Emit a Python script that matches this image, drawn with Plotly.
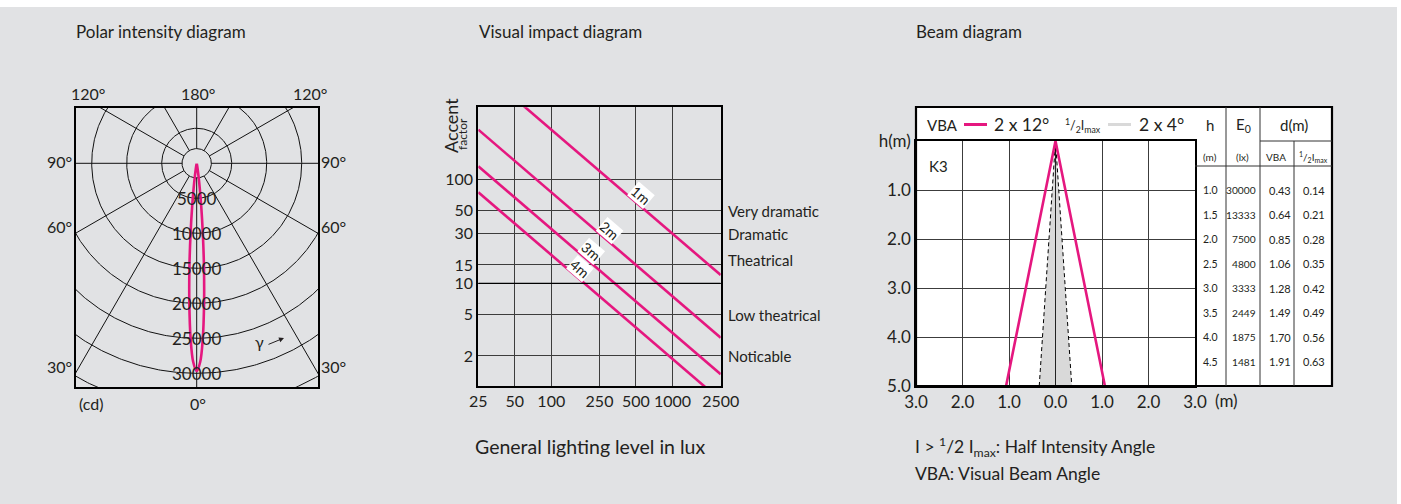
import numpy as np
import plotly.graph_objects as go

W, H = 1401, 504
def PX(x): return x / W
def PY(y): return 1 - y / H

PINK = "#e5177f"
TXT = "#231f20"
GRID = "#3c3c3c"
BG = "#e1e2e4"
FONT = "Lato, 'Open Sans', sans-serif"

# ---------------- data ----------------
# Polar intensity diagram (luminous intensity in cd vs gamma angle)
polar_gamma = [-12, -10, -9, -8, -7, -6, -5, -4, -3, -2, -1, 0, 1, 2, 3, 4, 5, 6, 7, 8, 9, 10, 12]
polar_cd = [60, 400, 900, 1900, 3600, 6200, 10000, 14900, 20100, 25000, 28400, 29700,
            28400, 25000, 20100, 14900, 10000, 6200, 3600, 1900, 900, 400, 60]
polar_ring_cd = [5000, 10000, 15000, 20000, 25000, 30000, 35000]
polar_ring_labels = ["5000", "10000", "15000", "20000", "25000", "30000"]
polar_spoke_deg = [0, 30, 60, 90, 120, 150, 180]
polar_hub_cd = 2100

# Visual impact diagram
lux_ticks = [25, 50, 100, 250, 500, 1000, 2500]
accent_ticks = [2, 5, 10, 15, 30, 50, 100]
impact_levels = ["Very dramatic", "Dramatic", "Theatrical", "Low theatrical", "Noticable"]
impact_level_acc = [50, 30, 16.8, 5, 2]
impact_dist = ["1m", "2m", "3m", "4m"]
impact_E0 = [30000, 7500, 3333, 1875]
impact_label_lux = [553, 303, 214, 172]
impact_label_acc = [70.2, 32.5, 20.1, 13.9]

# Beam diagram + table
beam_h = [1.0, 1.5, 2.0, 2.5, 3.0, 3.5, 4.0, 4.5]
beam_E0 = [30000, 13333, 7500, 4800, 3333, 2449, 1875, 1481]
beam_d_vba = [0.43, 0.64, 0.85, 1.06, 1.28, 1.49, 1.70, 1.91]
beam_d_half = [0.14, 0.21, 0.28, 0.35, 0.42, 0.49, 0.56, 0.63]
vba_half_angle = 12
half_imax_half_angle = 4
beam_h_max = 5.0
beam_x_ticks = [-3, -2, -1, 0, 1, 2, 3]
beam_x_text = ["3.0", "2.0", "1.0", "0.0", "1.0", "2.0", "3.0"]
beam_y_ticks = [0, 1, 2, 3, 4, 5]
beam_y_text = ["h(m)", "1.0", "2.0", "3.0", "4.0", "5.0"]

fig = go.Figure()

# ---------------- polar diagram ----------------
t = np.linspace(0, 2 * np.pi, 721)
gx, gy = [], []
for r in polar_ring_cd + [polar_hub_cd]:
    gx += list(r * np.sin(t)) + [None]
    gy += list(r * np.cos(t)) + [None]
for a in polar_spoke_deg:
    for s in ([1, -1] if 0 < a < 180 else [1]):
        ar = np.radians(a * s)
        gx += [polar_hub_cd * np.sin(ar), 60000 * np.sin(ar), None]
        gy += [-polar_hub_cd * np.cos(ar), -60000 * np.cos(ar), None]
fig.add_trace(go.Scatter(x=gx, y=gy, mode="lines", line=dict(color="#111", width=1),
                         xaxis="x", yaxis="y", hoverinfo="skip"))
g = np.radians(polar_gamma)
cd = np.array(polar_cd)
fig.add_trace(go.Scatter(x=cd * np.sin(g), y=-cd * np.cos(g), mode="lines",
                         line=dict(color=PINK, width=2.6, shape="spline"),
                         xaxis="x", yaxis="y", hoverinfo="skip"))

# ---------------- visual impact ----------------
for e0 in impact_E0:
    fig.add_trace(go.Scatter(x=[lux_ticks[0], lux_ticks[-1]], y=[e0 / lux_ticks[0], e0 / lux_ticks[-1]],
                             mode="lines", line=dict(color=PINK, width=2.6),
                             xaxis="x2", yaxis="y2", hoverinfo="skip"))
fig.add_trace(go.Scatter(x=[lux_ticks[0], lux_ticks[-1]], y=[10, 10], mode="lines",
                         line=dict(color="black", width=1.3), xaxis="x2", yaxis="y2", hoverinfo="skip"))

# ---------------- beam diagram ----------------
dh = beam_h_max * np.tan(np.radians(half_imax_half_angle))
dv = beam_h_max * np.tan(np.radians(vba_half_angle))
fig.add_trace(go.Scatter(x=[-dh, 0, dh, -dh], y=[beam_h_max, 0, beam_h_max, beam_h_max], fill="toself",
                         fillcolor="#d9d9d9", line=dict(width=0), mode="lines",
                         xaxis="x3", yaxis="y3", hoverinfo="skip"))
fig.add_trace(go.Scatter(x=[0, 0], y=[0, beam_h_max], mode="lines", line=dict(color="#222", width=1),
                         xaxis="x3", yaxis="y3", hoverinfo="skip"))
fig.add_trace(go.Scatter(x=[-dh, 0, dh], y=[beam_h_max, 0, beam_h_max], mode="lines",
                         line=dict(color="black", width=1, dash="4px,3px"),
                         xaxis="x3", yaxis="y3", hoverinfo="skip"))
fig.add_trace(go.Scatter(x=[-dv, 0, dv], y=[beam_h_max, 0, beam_h_max], mode="lines",
                         line=dict(color=PINK, width=2.6), xaxis="x3", yaxis="y3", hoverinfo="skip"))

# ---------------- annotations ----------------
anns = []
def ann(text, x, y, size, xanchor="center", yanchor="middle", **kw):
    d = dict(text=text, x=PX(x), y=PY(y), xref="paper", yref="paper", showarrow=False,
             font=dict(size=size, color=TXT, family=FONT), xanchor=xanchor, yanchor=yanchor)
    d.update(kw)
    anns.append(d)

# titles
ann("Polar intensity diagram", 74, 31, 17, xanchor="left")
ann("Visual impact diagram", 477, 31, 17, xanchor="left")
ann("Beam diagram", 914, 31, 17, xanchor="left")

# polar labels
ann("120°", 88, 93, 16); ann("180°", 198, 93, 16); ann("120°", 310, 93, 16)
ann("90°", 59, 161, 16); ann("90°", 333, 161, 16)
ann("60°", 59, 227, 16); ann("60°", 333, 227, 16)
ann("30°", 59, 366, 16); ann("30°", 333, 366, 16)
ann("(cd)", 91, 403, 16); ann("0°", 198, 403, 16)
for r, lab in zip(polar_ring_cd, polar_ring_labels):
    anns.append(dict(text=lab, x=0, y=-r, xref="x", yref="y", showarrow=False,
                     font=dict(size=17, color=TXT, family=FONT)))
ann("γ", 259, 341, 16)
anns.append(dict(text="", x=PX(284), y=PY(338), xref="paper", yref="paper", showarrow=True,
                 ax=-17, ay=7, arrowhead=2, arrowsize=1, arrowwidth=1, arrowcolor=TXT))

# visual impact labels
ann("Accent", 451, 126, 18, textangle=-90)
ann("factor", 463, 134, 12, textangle=-90)
for lab, acc in zip(impact_levels, impact_level_acc):
    anns.append(dict(text=lab, x=PX(726), y=np.log10(acc), xref="paper", yref="y2", showarrow=False,
                     xanchor="left", font=dict(size=15, color=TXT, family=FONT)))
for lab, lx, ac in zip(impact_dist, impact_label_lux, impact_label_acc):
    anns.append(dict(text=lab, x=np.log10(lx), y=np.log10(ac), xref="x2", yref="y2", showarrow=False,
                     textangle=40.6, bgcolor="white", borderpad=0,
                     font=dict(size=14, color=TXT, family=FONT)))
ann("General lighting level in lux", 590, 446, 19.5)

# beam header
ann("VBA", 942, 125, 15)
ann("2 x 12°", 1021, 124, 17.5)
ann("<sup>1</sup>/<sub>2</sub>I<sub>max</sub>", 1083, 125, 12.5)
ann("2 x 4°", 1161, 124, 17.5)
ann("K3", 938, 166, 15)
ann("(m)", 1226, 400, 17)
# table header
ann("h", 1210, 125, 15)
ann("E<sub>0</sub>", 1243, 125, 15)
ann("d(m)", 1294, 125, 15)
ann("(m)", 1210, 157, 10)
ann("(lx)", 1242, 157, 10)
ann("VBA", 1276, 157, 10)
ann("<sup>1</sup>/<sub>2</sub>I<sub>max</sub>", 1313, 157, 10)
cols = [(beam_h, 1220, "{:.1f}", 10.5), (beam_E0, 1257.5, "{}", 10.2),
        (beam_d_vba, 1293, "{:.2f}", 11), (beam_d_half, 1327, "{:.2f}", 11)]
for vals, xr, fmt, fs in cols:
    for hv, v in zip(beam_h, vals):
        anns.append(dict(text=fmt.format(v), x=PX(xr), y=hv, xref="paper", yref="y3", showarrow=False,
                         xanchor="right", font=dict(size=fs, color=TXT, family=FONT)))
ann("I > <sup>1</sup>/2 I<sub>max</sub>: Half Intensity Angle", 913, 447, 17.5, xanchor="left")
ann("VBA: Visual Beam Angle", 913, 473, 17.5, xanchor="left")

# ---------------- shapes ----------------
shapes = [
    dict(type="rect", xref="paper", yref="paper", x0=0, x1=PX(1397), y0=0, y1=PY(7),
         fillcolor=BG, line=dict(width=0), layer="below"),
    dict(type="rect", xref="paper", yref="paper", x0=PX(916), x1=PX(1332), y0=PY(386), y1=PY(107),
         fillcolor="white", line=dict(width=0), layer="below"),
    dict(type="rect", xref="paper", yref="paper", x0=PX(916), x1=PX(1332), y0=PY(386), y1=PY(107),
         line=dict(color="black", width=2.2)),
]
def hline(y, x0, x1, w=1, c="#333"):
    shapes.append(dict(type="line", xref="paper", yref="paper", x0=PX(x0), x1=PX(x1), y0=PY(y), y1=PY(y),
                       line=dict(color=c, width=w)))
def vline(x, y0, y1, w=1, c="#333"):
    shapes.append(dict(type="line", xref="paper", yref="paper", x0=PX(x), x1=PX(x), y0=PY(y0), y1=PY(y1),
                       line=dict(color=c, width=w)))
vline(1226, 107, 386); vline(1260, 107, 386); vline(1294, 141, 386)
hline(141, 1260, 1332); hline(166, 1195, 1332)
hline(124.5, 964, 987, w=3, c=PINK)
hline(124.5, 1108, 1131, w=3, c="#d9d9d9")

axcommon = dict(zeroline=False, showline=True, mirror=True, linecolor="black", ticks="", automargin=False,
                tickfont=dict(size=16, color=TXT, family=FONT), fixedrange=True)

fig.update_layout(
    template="none",
    width=W, height=H, margin=dict(l=0, r=0, t=0, b=0, pad=0, autoexpand=False),
    paper_bgcolor="white", plot_bgcolor="white", showlegend=False,
    font=dict(family=FONT, color=TXT),
    xaxis=dict(domain=[PX(76), PX(318)], range=[-17243, 17329], showticklabels=False, showgrid=False,
               anchor="y", linewidth=2, **axcommon),
    yaxis=dict(domain=[PY(387), PY(108)], range=[-31957, 7900], showticklabels=False, showgrid=False,
               anchor="x", linewidth=2, **axcommon),
    xaxis2=dict(type="log", domain=[PX(478.3), PX(720.7)], range=[np.log10(25), np.log10(2500)],
                tickvals=lux_ticks, ticktext=[str(v) for v in lux_ticks], showgrid=True, gridcolor=GRID,
                gridwidth=1, anchor="y2", linewidth=2, **axcommon),
    yaxis2=dict(type="log", domain=[PY(386), PY(107.3)], range=[0.0125, 2.692],
                tickvals=accent_ticks, ticktext=[str(v) for v in accent_ticks], showgrid=True, gridcolor=GRID,
                gridwidth=1, anchor="x2", linewidth=2, **axcommon),
    xaxis3=dict(domain=[PX(916), PX(1195)], range=[-3, 3], tickvals=beam_x_ticks, ticktext=beam_x_text,
                showgrid=True, gridcolor=GRID, gridwidth=1, anchor="y3", linewidth=1.5,
                **{**axcommon, "tickfont": dict(size=17, color=TXT, family=FONT)}),
    yaxis3=dict(domain=[PY(386), PY(141)], range=[5, 0], tickvals=beam_y_ticks, ticktext=beam_y_text,
                showgrid=True, gridcolor=GRID, gridwidth=1, anchor="x3", linewidth=1.5,
                **{**axcommon, "tickfont": dict(size=17, color=TXT, family=FONT)}),
    annotations=anns, shapes=shapes,
)

fig.write_html("out.html", config={"displayModeBar": False},
               post_script="document.body.style.margin='0';document.body.style.overflow='hidden';")
